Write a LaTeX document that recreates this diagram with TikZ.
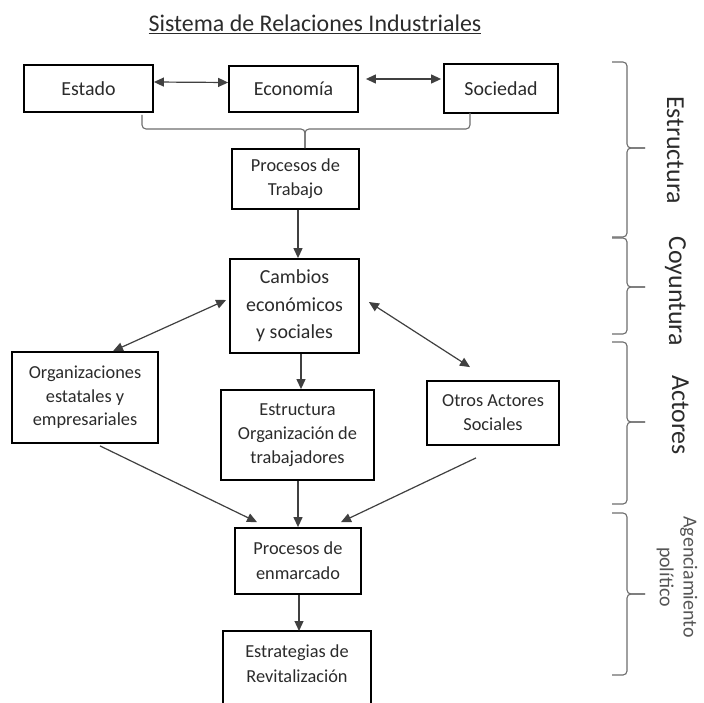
\documentclass[tikz,border=0pt]{standalone}
\usepackage{fontspec}
\setmainfont{Carlito}
\usetikzlibrary{arrows.meta}
\definecolor{txt}{HTML}{2B2B2B}
\definecolor{conn}{HTML}{404040}
\definecolor{brc}{HTML}{6E6E6E}
\begin{document}
\begin{tikzpicture}[x=1bp,y=-1bp,
  box/.style={draw=black, line width=1.8bp, align=center, inner sep=0pt, text=txt, font=\fontsize{18.4}{24}\selectfont},
  boxtext/.style={align=center, inner sep=0pt, text=txt, font=\fontsize{18.4}{25}\selectfont},
  boxline/.style={draw=black, line width=1.8bp},
  arr/.style={draw=conn, line width=1.2bp, -{Triangle[length=10bp,width=9bp]}},
  biarr/.style={draw=conn, line width=1.2bp, {Triangle[length=10bp,width=9bp]}-{Triangle[length=10bp,width=9bp]}},
  brace/.style={draw=brc, line width=1.1bp, rounded corners=4bp},
  side/.style={rotate=-90, anchor=base, text=txt, font=\fontsize{26}{30}\selectfont},
  sidesmall/.style={rotate=-90, align=center, text=txt!80, font=\fontsize{20}{24}\selectfont}]
\useasboundingbox (0,0) rectangle (704,703);
\clip (0,0) rectangle (704,703);
\fill[white] (0,0) rectangle (704,703);

% title
\node[anchor=base, text=txt, font=\fontsize{24}{28}\selectfont] (title) at (315,31.5) {\underline{Sistema de Relaciones Industriales}};

% top row
\node[box, minimum width=129bp, minimum height=47bp, font=\fontsize{20}{24}\selectfont] (estado) at (88.5,88.5) {Estado};
\node[box, minimum width=129bp, minimum height=46bp, font=\fontsize{20}{24}\selectfont] (econ) at (293.5,89) {Economía};
\node[box, minimum width=114bp, minimum height=49bp, font=\fontsize{20}{24}\selectfont] (soc) at (501,88.5) {Sociedad};

\node[box, minimum width=127bp, minimum height=60bp] (pt) at (295.5,179) {Procesos de\\Trabajo};
\node[box, minimum width=129bp, minimum height=94bp, font=\fontsize{20}{27.5}\selectfont] (camb) at (294.5,306) {Cambios\\económicos\\y sociales};
\node[box, minimum width=146bp, minimum height=91bp, font=\fontsize{18.4}{23.5}\selectfont] (org) at (85,397.5) {Organizaciones\\estatales y\\empresariales};
\node[box, minimum width=153bp, minimum height=90bp] (estr) at (297.5,435) {Estructura\\Organización de\\trabajadores};
\node[box, minimum width=132bp, minimum height=64bp] (otros) at (493,413) {Otros Actores\\Sociales};
\node[box, minimum width=126bp, minimum height=66bp, font=\fontsize{18.4}{25}\selectfont] (enm) at (298,561) {Procesos de\\enmarcado};
\node[boxtext] (strat) at (297,663.5) {Estrategias de\\Revitalización};
\draw[boxline] (223,631) rectangle (371,715);
\coordinate (stratTop) at (297,631);

% top arrows
\draw[biarr] ([yshift=6.5bp]estado.east) -- ([yshift=6.5bp]econ.west);
\draw[biarr] ([xshift=7bp,yshift=10bp]econ.east) -- ([xshift=-2bp,yshift=9.5bp]soc.west);

% bracket joining top row to Procesos de Trabajo
\coordinate (brL) at (142,115);
\coordinate (brR) at (470,113);
\coordinate (brT) at (305,129);
\draw[brace] (brL) |- (brT) -- (brT |- pt.north);
\draw[brace] (brR) |- (brT) -- (brT |- pt.north);

% flow arrows
\draw[arr] ([xshift=2.5bp]pt.south) -- ([xshift=2.5bp]pt.south |- camb.north);
\draw[arr] ([xshift=6.5bp]camb.south) -- ([xshift=6.5bp]camb.south |- estr.north);
\draw[biarr] ([xshift=28bp]org.north) -- ([xshift=-3bp,yshift=6bp]camb.west);
\draw[biarr] ([xshift=9bp,yshift=4bp]camb.east) -- ([xshift=-23bp,yshift=13bp]otros.north);
\draw[arr] ([xshift=15bp,yshift=-2bp]org.south) -- ([xshift=-41bp,yshift=5bp]enm.north);
\draw[arr] ([xshift=0.5bp]estr.south) -- ([xshift=0.5bp]estr.south |- enm.north);
\draw[arr] ([xshift=-17bp,yshift=-12bp]otros.south) -- ([xshift=43bp,yshift=5bp]enm.north);
\draw[arr] ([xshift=1bp]enm.south) -- ([xshift=1bp]enm.south |- stratTop);

% right braces
\foreach \ya/\ym/\yb in {62/148/237, 238/287/334, 342/422/504, 513/594/675}{
  \draw[brace] (612,\ya) -| (627,\ym) -- (645,\ym);
  \draw[brace] (612,\yb) -| (627,\ym) -- (645,\ym);
}

% side labels
\node[side] (lest) at (667,150) {Estructura};
\node[side] (lcoy) at (669,291) {Coyuntura};
\node[side] (lact) at (672,415) {Actores};
\node[sidesmall] (lage) at (677,577) {Agenciamiento\\político};
\end{tikzpicture}
\end{document}
